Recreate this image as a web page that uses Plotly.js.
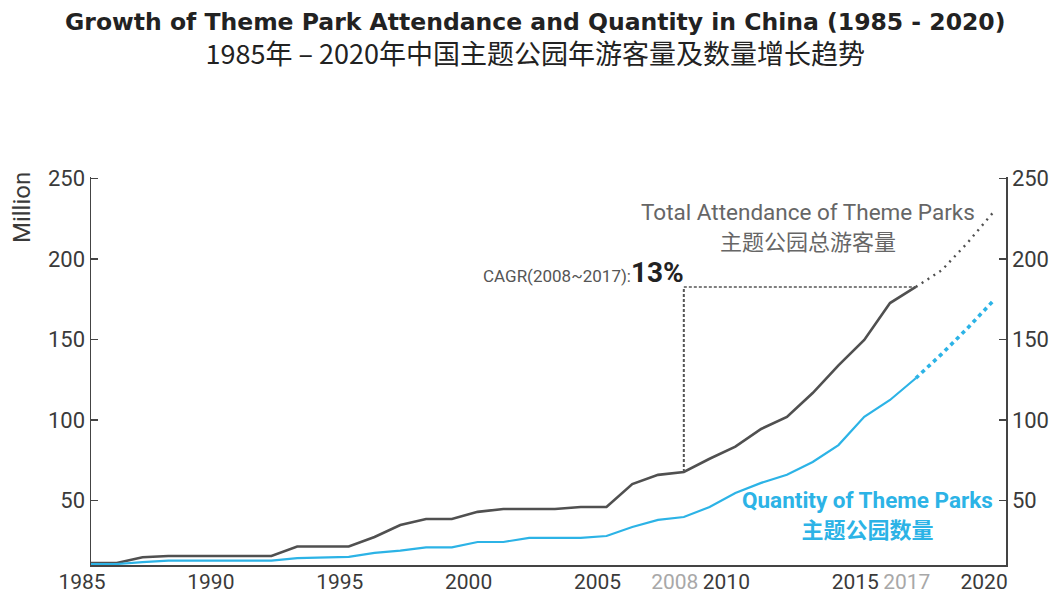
<!DOCTYPE html>
<html>
<head>
<meta charset="utf-8">
<script src="https://cdn.plot.ly/plotly-3.0.1.min.js"></script>
<style>
  html, body { margin: 0; padding: 0; background: #fff; }
  #chart { width: 1054px; height: 595px; }
</style>
</head>
<body>
<div id="chart"></div>
<script>
// ---- Data ----
const years = [1985,1986,1987,1988,1989,1990,1991,1992,1993,1994,1995,1996,1997,1998,1999,2000,
               2001,2002,2003,2004,2005,2006,2007,2008,2009,2010,2011,2012,2013,2014,2015,2016,2017];
// Total attendance of theme parks (million)
const attendance = [11.2,11.2,14.8,15.6,15.6,15.6,15.6,15.6,21.5,21.5,21.5,27.4,34.8,38.6,38.6,43.0,
                    44.8,44.8,44.8,46.0,46.0,60.3,66.0,67.8,76.0,83.5,94.5,102.0,116.8,134.0,149.8,172.7,182.7];
// Quantity of theme parks
const quantity = [10.6,10.6,11.8,12.7,12.7,12.7,12.7,12.7,14.3,14.6,15.0,17.5,18.9,21.0,21.0,24.3,
                  24.3,26.8,26.8,26.8,28.0,33.6,38.0,39.8,46.0,54.7,61.0,66.0,74.0,84.5,102.0,112.5,126.0];
// Projections 2017-2020 (dotted)
const forecastYears = [2017,2018,2019,2020];
const attendanceForecast = [182.7,193,210,229];
const quantityForecast = [126,141,157,174];

const xTickVals = [1985,1990,1995,2000,2005,2008,2010,2015,2017,2020];
const xTickText = ['1985','1990','1995','2000','2005','<span style="color:#a8a8a8">2008</span>','2010','2015','<span style="color:#a8a8a8">2017</span>','2020'];
const yTickVals = [50,100,150,200,250];

const titleText = 'Growth of Theme Park Attendance and Quantity in China (1985 - 2020)';
const subtitleText = '1985年 – 2020年中国主题公园年游客量及数量增长趋势';
const attendanceLabel = ['Total Attendance of Theme Parks', '主题公园总游客量'];
const quantityLabel = ['Quantity of Theme Parks', '主题公园数量'];
const cagrLabel = 'CAGR(2008~2017):';
const cagrValue = '13%';

const cagrStart = 2008, cagrEnd = 2017;
const cagrStartVal = attendance[years.indexOf(cagrStart)];
const cagrEndVal = attendance[years.indexOf(cagrEnd)];

const GRAY = '#505050';
const BLUE = '#2cb3e6';
const LATIN = 'Roboto, "Noto Sans CJK SC", sans-serif';
const CJK = '"Noto Sans CJK SC", Roboto, sans-serif';

const traces = [
  {x: years, y: attendance, type: 'scatter', mode: 'lines', name: 'Total Attendance',
   line: {color: GRAY, width: 2.6}},
  {x: forecastYears, y: attendanceForecast, type: 'scatter', mode: 'lines', name: 'Attendance forecast',
   line: {color: GRAY, width: 2.4, dash: '2px,5px'}},
  {x: years, y: quantity, type: 'scatter', mode: 'lines', name: 'Quantity', yaxis: 'y2',
   line: {color: BLUE, width: 2.2}},
  {x: forecastYears, y: quantityForecast, type: 'scatter', mode: 'lines', name: 'Quantity forecast', yaxis: 'y2',
   line: {color: BLUE, width: 3.6, dash: '4px,4px'}}
];

const yRange = [10, 251];
const axisCommon = {
  range: yRange, tickvals: yTickVals, ticks: 'inside', ticklen: 7, tickwidth: 1.5, tickcolor: '#444',
  showline: true, linecolor: '#444', linewidth: 1.5, showgrid: false, zeroline: false,
  tickfont: {family: LATIN, size: 22, color: '#3a3a3a'}, fixedrange: true
};

const px = v => (v - 91) / 915;     // page x -> paper x
const py = v => (565 - v) / 388;    // page y -> paper y

const layout = {
  width: 1054, height: 595,
  margin: {l: 91, r: 48, t: 177, b: 30, pad: 0},
  paper_bgcolor: '#ffffff', plot_bgcolor: '#ffffff',
  showlegend: false,
  xaxis: {
    range: [1985, 2020.5], tickvals: xTickVals, ticktext: xTickText, tickangle: 0,
    ticks: '', showline: true, linecolor: '#444', linewidth: 1.5, showgrid: false, zeroline: false,
    tickfont: {family: LATIN, size: 21, color: '#3a3a3a'}, ticklabelshift: -9, ticklabelstandoff: -3,
    fixedrange: true
  },
  yaxis: Object.assign({}, axisCommon, {side: 'left'}),
  yaxis2: Object.assign({}, axisCommon, {side: 'right', overlaying: 'y'}),
  shapes: [
    {type: 'line', xref: 'x', yref: 'y', x0: cagrStart, x1: cagrStart, y0: cagrStartVal, y1: cagrEndVal,
     line: {color: '#555', width: 2, dash: '3px,2px'}},
    {type: 'line', xref: 'x', yref: 'y', x0: cagrStart, x1: cagrEnd, y0: cagrEndVal, y1: cagrEndVal,
     line: {color: '#555', width: 1.6, dash: '3px,2px'}}
  ],
  annotations: [
    // two-line title
    {xref: 'paper', yref: 'paper', x: px(535), y: py(40), xanchor: 'center', yanchor: 'middle', showarrow: false,
     align: 'center',
     text: '<b><span style="font-family:' + "'DejaVu Sans'" + ';font-size:23.5px">' + titleText + '</span></b><br>' +
           '<span style="font-size:27px">' + subtitleText + '</span>',
     font: {family: CJK, size: 26.5, color: '#222'}},
    {xref: 'paper', yref: 'paper', x: px(22), y: py(208), text: 'Million', textangle: -90, showarrow: false,
     xanchor: 'center', yanchor: 'middle', font: {family: LATIN, size: 24, color: '#3a3a3a'}},
    {xref: 'x', yref: 'y', x: cagrStart, y: cagrEndVal, xanchor: 'right', yanchor: 'bottom', showarrow: false,
     yshift: -4, xshift: 2,
     text: cagrLabel + '<b><span style="font-size:28px;color:#222">' + cagrValue + '</span></b>',
     font: {family: LATIN, size: 17, color: '#555'}},
    {xref: 'paper', yref: 'paper', x: px(808), y: py(227), xanchor: 'center', yanchor: 'middle', showarrow: false,
     align: 'center',
     text: '<span style="font-size:22.5px">' + attendanceLabel[0] + '</span><br>' +
           '<span style="font-size:22px;font-family:' + "'Noto Sans CJK SC'" + '">' + attendanceLabel[1] + '</span>',
     font: {family: LATIN, size: 23, color: '#666'}},
    {xref: 'paper', yref: 'paper', x: px(867), y: py(515), xanchor: 'center', yanchor: 'middle', showarrow: false,
     align: 'center',
     text: '<b><span style="font-size:22.5px">' + quantityLabel[0] + '</span><br>' +
           '<span style="font-size:22px;font-family:' + "'Noto Sans CJK SC'" + '">' + quantityLabel[1] + '</span></b>',
     font: {family: LATIN, size: 23, color: BLUE}}
  ]
};

Plotly.newPlot('chart', traces, layout, {displayModeBar: false, staticPlot: true});
</script>
</body>
</html>
